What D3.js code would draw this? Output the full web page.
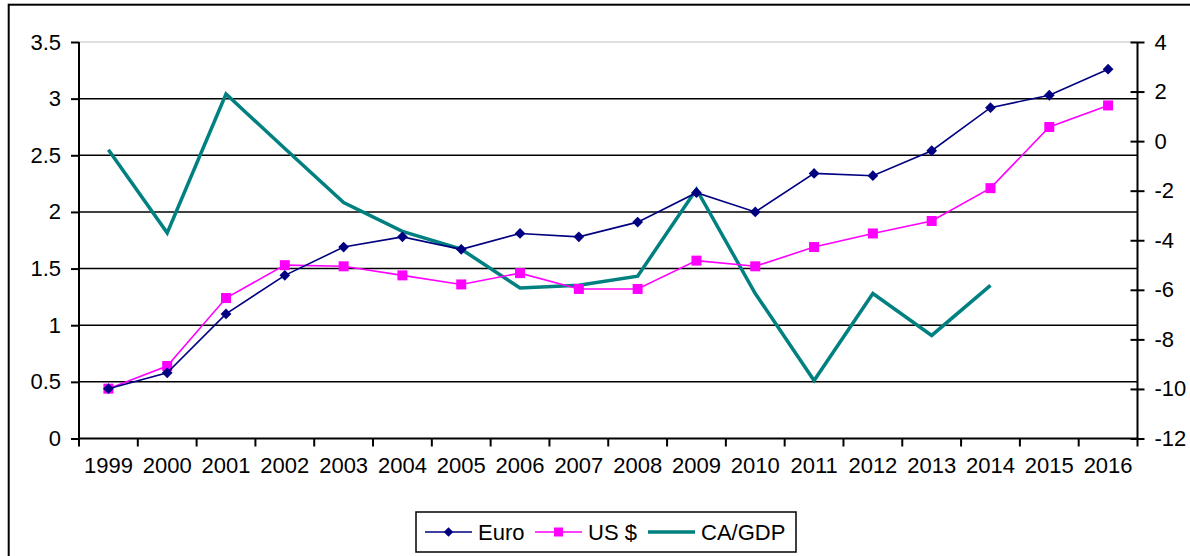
<!DOCTYPE html>
<html>
<head>
<meta charset="utf-8">
<script src="https://cdn.jsdelivr.net/npm/d3@7"></script>
<style>
  body { margin: 0; background: #fff; }
  text { font-family: "Liberation Sans", Arial, sans-serif; font-size: 22px; fill: #000; }
</style>
</head>
<body>
<svg id="chart" width="1190" height="556"></svg>
<script>
var years = ["1999","2000","2001","2002","2003","2004","2005","2006","2007","2008",
             "2009","2010","2011","2012","2013","2014","2015","2016"];
var euro = [0.44, 0.58, 1.10, 1.44, 1.69, 1.78, 1.67, 1.81, 1.78, 1.91,
            2.17, 2.00, 2.34, 2.32, 2.54, 2.92, 3.03, 3.26];
var usd  = [0.44, 0.64, 1.24, 1.53, 1.52, 1.44, 1.36, 1.46, 1.32, 1.32,
            1.57, 1.52, 1.69, 1.81, 1.92, 2.21, 2.75, 2.94];
var caGdp = [-0.35, -3.7, 1.9, -0.3, -2.48, -3.64, -4.36, -5.93, -5.82, -5.45,
             -1.94, -6.15, -9.66, -6.15, -7.84, -5.82, null, null];
var leftTicks = [0, 0.5, 1, 1.5, 2, 2.5, 3, 3.5];
var rightTicks = [-12, -10, -8, -6, -4, -2, 0, 2, 4];

var pLeft = 79, pRight = 1137.5, pTop = 42, pBottom = 438.5;

var svg = d3.select("#chart");

// outer frame
svg.append("rect")
    .attr("x", 8.7).attr("y", 4.7)
    .attr("width", 1200).attr("height", 600)
    .attr("fill", "none").attr("stroke", "#000").attr("stroke-width", 2);

var x = d3.scaleBand().domain(years).range([pLeft, pRight]).padding(0);
var y = d3.scaleLinear().domain([0, 3.5]).range([pBottom, pTop]);
var y2 = d3.scaleLinear().domain([-12, 4]).range([pBottom, pTop]);

// plot border (top shows grey)
svg.append("rect")
    .attr("x", pLeft).attr("y", pTop)
    .attr("width", pRight - pLeft).attr("height", pBottom - pTop)
    .attr("fill", "none").attr("stroke", "#c0c0c0").attr("stroke-width", 1);

// gridlines
svg.append("g").selectAll("line")
    .data(leftTicks.filter(function(d) { return d > 0 && d < 3.5; }))
    .enter().append("line")
        .attr("x1", pLeft).attr("x2", pRight)
        .attr("y1", function(d) { return y(d); })
        .attr("y2", function(d) { return y(d); })
        .attr("stroke", "#000").attr("stroke-width", 1.5);

var font = "Liberation Sans, Arial, sans-serif";
var plain = function(d) { return String(d); };

// left axis
var gl = svg.append("g").attr("transform", "translate(" + pLeft + ",0)")
    .call(d3.axisLeft(y).tickValues(leftTicks).tickSize(8).tickPadding(10).tickFormat(plain));
gl.select(".domain").attr("stroke", "#000").attr("stroke-width", 2).attr("d", "M0," + pTop + "V" + pBottom);
gl.selectAll(".tick line").attr("stroke-width", 2);
gl.selectAll("text").style("font-size", "22px").style("font-family", font).attr("fill", "#000");

// right axis (cross ticks)
var gr = svg.append("g").attr("transform", "translate(" + pRight + ",0)")
    .call(d3.axisRight(y2).tickValues(rightTicks).tickSize(7).tickPadding(10).tickFormat(plain));
gr.select(".domain").attr("stroke", "#000").attr("stroke-width", 2).attr("d", "M0," + pTop + "V" + pBottom);
gr.selectAll(".tick line").attr("x1", -7).attr("x2", 7).attr("stroke-width", 2);
gr.selectAll("text").attr("x", 17).style("font-size", "22px").style("font-family", font).attr("fill", "#000");

// bottom axis
var gb = svg.append("g").attr("transform", "translate(0," + pBottom + ")")
    .call(d3.axisBottom(x).tickSize(0).tickPadding(19));
gb.select(".domain").attr("stroke", "#000").attr("stroke-width", 2).attr("d", "M" + pLeft + ",0H" + pRight);
gb.selectAll("text").style("font-size", "22px").style("font-family", font).attr("fill", "#000");
var bounds = years.map(function(d) { return x(d); }).concat([pRight]);
gb.selectAll(".bound").data(bounds).enter().append("line")
    .attr("x1", function(d) { return d; }).attr("x2", function(d) { return d; })
    .attr("y1", 0).attr("y2", 8)
    .attr("stroke", "#000").attr("stroke-width", 2);

function cx(i) { return x(years[i]) + x.bandwidth() / 2; }

var lineL = d3.line().x(function(d, i) { return cx(i); }).y(function(d) { return y(d); });
var lineR = d3.line()
    .defined(function(d) { return d != null; })
    .x(function(d, i) { return cx(i); }).y(function(d) { return y2(d); });

// CA/GDP
svg.append("path").datum(caGdp)
    .attr("d", lineR).attr("fill", "none")
    .attr("stroke", "#008080").attr("stroke-width", 3.5).attr("stroke-linejoin", "miter");

// US $
svg.append("path").datum(usd)
    .attr("d", lineL).attr("fill", "none")
    .attr("stroke", "#ff00ff").attr("stroke-width", 1.6);
svg.append("g").selectAll("rect").data(usd).enter().append("rect")
    .attr("x", function(d, i) { return cx(i) - 5; })
    .attr("y", function(d) { return y(d) - 5; })
    .attr("width", 10).attr("height", 10)
    .attr("fill", "#ff00ff");

// Euro
svg.append("path").datum(euro)
    .attr("d", lineL).attr("fill", "none")
    .attr("stroke", "#000080").attr("stroke-width", 1.6);
var diamond = d3.symbol().type(d3.symbolSquare).size(58);
svg.append("g").selectAll("path").data(euro).enter().append("path")
    .attr("d", diamond)
    .attr("transform", function(d, i) { return "translate(" + cx(i) + "," + y(d) + ") rotate(45)"; })
    .attr("fill", "#000080");

// legend
var lg = svg.append("g");
lg.append("rect")
    .attr("x", 416).attr("y", 512).attr("width", 380).attr("height", 40)
    .attr("fill", "#fff").attr("stroke", "#000").attr("stroke-width", 1.5);
var legendItems = [
    { name: "Euro", color: "#000080", x: 425, w: 1.6, mark: "diamond" },
    { name: "US $", color: "#ff00ff", x: 535, w: 1.6, mark: "square" },
    { name: "CA/GDP", color: "#008080", x: 648, w: 3.5, mark: null }
];
legendItems.forEach(function(it) {
    var ly = 532;
    lg.append("line").attr("x1", it.x).attr("x2", it.x + 47)
        .attr("y1", ly).attr("y2", ly)
        .attr("stroke", it.color).attr("stroke-width", it.w);
    if (it.mark === "diamond") {
        lg.append("path").attr("d", d3.symbol().type(d3.symbolSquare).size(45))
            .attr("transform", "translate(" + (it.x + 23.5) + "," + ly + ") rotate(45)")
            .attr("fill", it.color);
    } else if (it.mark === "square") {
        lg.append("rect").attr("x", it.x + 19).attr("y", ly - 4.5)
            .attr("width", 9).attr("height", 9).attr("fill", it.color);
    }
    lg.append("text").attr("x", it.x + 53).attr("y", ly).attr("dy", "0.35em").text(it.name);
});
</script>
</body>
</html>
